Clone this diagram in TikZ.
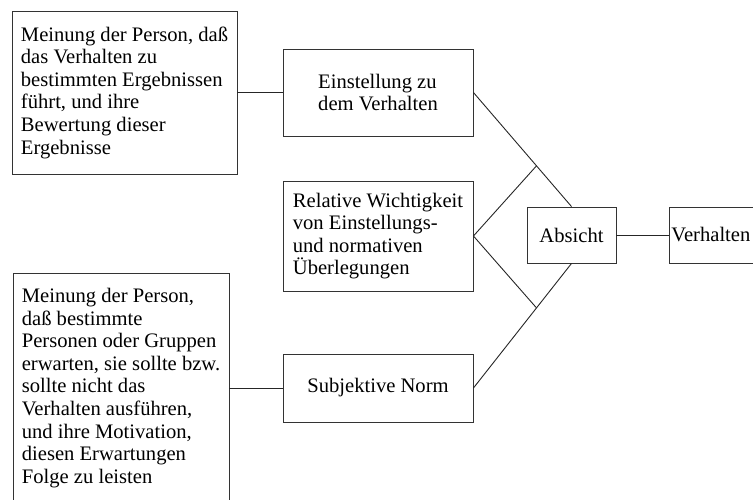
\documentclass[tikz,border=0pt]{standalone}
\usepackage{fontspec}
\setmainfont{Liberation Serif}
\usetikzlibrary{calc}

\begin{document}
\begin{tikzpicture}[
  x=1pt, y=-1pt,
  box/.style={rectangle, draw=black!80, line width=0.9pt, align=left, inner sep=0pt,
              font=\fontsize{20.6}{22.6}\selectfont},
  link/.style={black!85, line width=0.9pt}
]
  \useasboundingbox (0,0) rectangle (753,499);

  % beliefs on the left
  \node[box, minimum width=225, minimum height=163] (beliefA) at (124.5,92.5)
    {Meinung der Person, daß\\das Verhalten zu\\bestimmten Ergebnissen\\führt, und ihre\\Bewertung dieser\\Ergebnisse};
  \node[box, minimum width=216, minimum height=230] (beliefB) at (121,388)
    {Meinung der Person,\\daß bestimmte\\Personen oder Gruppen\\erwarten, sie sollte bzw.\\sollte nicht das\\Verhalten ausführen,\\und ihre Motivation,\\diesen Erwartungen\\Folge zu leisten};

  % middle column
  \node[box, minimum width=190, minimum height=87]  (attitude) at (378,92.5) {Einstellung zu\\dem Verhalten};
  \node[box, minimum width=190, minimum height=110] (weight)   at (378,236)  {Relative Wichtigkeit\\von Einstellungs-\\und normativen\\Überlegungen};
  \node[box, minimum width=190, minimum height=68]  (norm)     at (378,388)  {Subjektive Norm};

  % right side
  \node[box, minimum width=89, minimum height=56]  (intent)   at (571.5,235) {Absicht};
  \node[box, minimum height=56, anchor=west, inner xsep=2, text width=96] (behavior) at (669,235) {Verhalten};

  \draw[link] (beliefA) -- (attitude);
  \draw[link] (beliefB) -- (norm);
  \draw[link] (intent) -- (behavior);

  \draw[link] (attitude.east) -- (intent.north);
  \draw[link] (norm.east) -- (intent.south);
  \coordinate (upper) at ($(attitude.east)!0.643!(intent.north)$);
  \coordinate (lower) at ($(norm.east)!0.643!(intent.south)$);
  \draw[link] (upper) -- (weight.east) -- (lower);
\end{tikzpicture}
\end{document}
